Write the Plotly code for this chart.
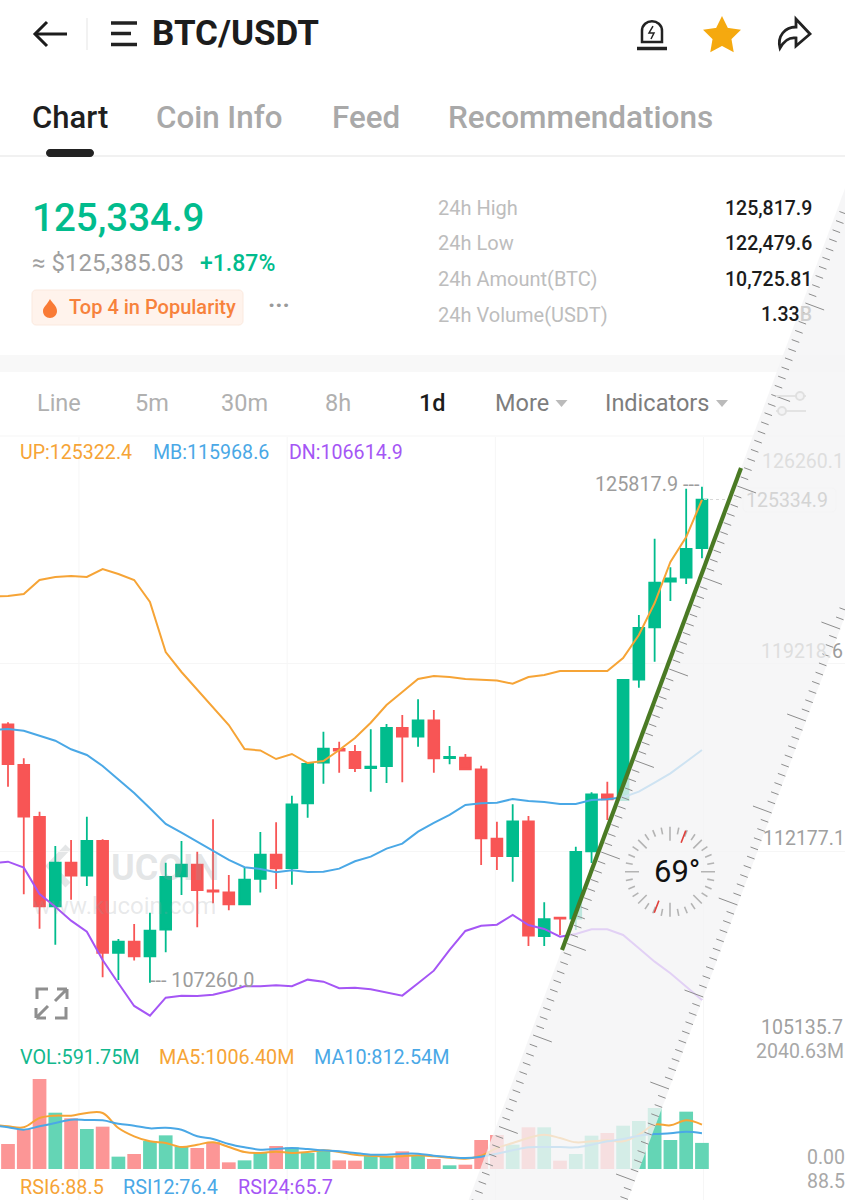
import math
import plotly.graph_objects as go

# ---------- data ----------
candle_open = [116928,115407,113461,110119,111753,111267,112563,108374,108798,108249,
               109246,111242,111678,110718,110643,110194,111142,112052,111553,113973,
               115494,116005,115893,115294,115369,116791,116467,117079,115668,115680,
               115246,112649,112002,113300,109009,109694,109657,112178,114310,114097,
               118597,120558,122264,122413,123524]
candle_close = [115444,113474,110119,111753,111267,112563,108374,108798,108249,109209,
                111217,111678,110730,110668,110194,111117,112052,111541,113935,115444,
                116018,115943,115294,115344,116791,116467,117078,115657,115706,115246,
                112664,112002,113300,109020,109634,109657,112152,114310,114123,118587,
                120532,122227,122391,123487,125334.9]
candle_high = [117003,115656,113661,112376,112601,113474,112626,108897,109458,109882,
               111753,112563,112164,113374,111292,111566,112900,113262,114259,115444,
               116654,116280,116155,116741,116940,117277,117863,117464,116117,115818,
               115380,113285,113936,113498,110270,109694,112350,114385,114782,118624,
               121016,123873,122802,125743,125817.9]
candle_low = [114596,110568,109284,108685,110369,110880,107463,107364,108087,107260,
              108399,110543,109334,110232,109970,110194,110631,110768,110930,113436,
              114708,115120,115145,114409,114733,114758,116092,115118,115433,115219,
              111665,111479,111041,108636,108636,109047,109235,111740,113349,114097,
              118298,119270,121542,122178,123139]
volume = [567,907,2040.63,1277,1149,907,960,280,340,635,763,506,476,612,151,196,363,521,491,363,
          416,196,189,302,287,400,310,227,83,98,657,771,552,945,945,189,340,756,816,982,
          1088,1383,657,1300,591.75]
band_up = [121710,121729,121804,122328,122440,122477,122440,122739,122552,122328,121504,
           119634,118886,118212,117539,116903,116005,115949,115630,115818,115481,115556,
           115968,116416,116989,117651,118138,118624,118736,118699,118624,118587,118568,
           118448,118699,118773,118923,118923,118923,118923,119409,120270,121467,123001,123936,125322.4]
band_mid = [116716,116754,116690,116492,116316,115994,115781,115369,114872,114359,113786,
            113199,112874,112537,112201,111853,111580,111516,111393,111468,111404,111416,
            111528,111805,111977,112276,112463,112912,113237,113537,113911,113974,113997,
            114135,114060,114023,113948,113948,114097,114123,114198,114408,114745,115094,115528,115968.6]
band_dn = [111729,111789,111565,110581,110106,109582,109170,108111,107240,106391,106028,
           106701,106776,106765,106813,106952,107128,107128,107165,107128,107375,107300,
           107053,107075,107015,106888,106776,107240,107711,108486,109196,109394,109432,
           109795,109421,109271,108983,109084,109260,109260,109047,108549,108048,107614,107113,106614.9]
vol_ma5 = [1005,967,945,1156,1209,1209,1270,1270,930,741,627,589,499,552,605,499,385,363,393,363,
           385,423,385,325,302,280,287,310,287,257,234,302,476,589,703,778,703,605,627,650,627,778,
           1006.40,990,1103,1006.40]
vol_ma10 = [990,945,892,967,1043,1118,1111,1103,1028,982,922,937,892,741,680,567,491,438,453,476,
            453,423,401,363,325,325,348,348,302,272,249,280,348,423,491,499,499,491,552,627,680,756,
            793,809,846,812.54]
price_ticks = [126260.1,119218.6,112177.1,105135.7]
grid_x = [4.5,17.7,30.9,44.1]

assert all(len(a)==45 for a in (candle_open,candle_close,candle_high,candle_low,volume))
assert all(len(a)==46 for a in (band_up,band_mid,band_dn,vol_ma5,vol_ma10))

W,H = 845,1200
GREEN,RED = '#01BC8D','#F85555'
ORANGE,BLUE,PURPLE = '#F6A436','#4AA8E6','#A556F5'
candle_idx = list(range(45))
line_idx = list(range(-1,45))

def px(x): return x/W
def py(y): return 1-y/H

fig = go.Figure()
fig.add_trace(go.Bar(x=candle_idx,y=volume,yaxis='y2',hoverinfo='skip',showlegend=False,
    marker=dict(color=['#64D5B5' if c>=o else '#FC9696' for o,c in zip(candle_open,candle_close)],line_width=0)))
fig.add_trace(go.Candlestick(x=candle_idx,open=candle_open,high=candle_high,low=candle_low,close=candle_close,
    increasing=dict(line=dict(color=GREEN,width=1.8),fillcolor=GREEN),
    decreasing=dict(line=dict(color=RED,width=1.8),fillcolor=RED),
    whiskerwidth=0,hoverinfo='skip',showlegend=False))
for vals,col in ((band_up,ORANGE),(band_mid,BLUE),(band_dn,PURPLE)):
    fig.add_trace(go.Scatter(x=line_idx,y=vals,mode='lines',line=dict(color=col,width=2),hoverinfo='skip',showlegend=False))
for vals,col in ((vol_ma5,ORANGE),(vol_ma10,BLUE)):
    fig.add_trace(go.Scatter(x=line_idx,y=vals,yaxis='y2',mode='lines',line=dict(color=col,width=2,shape='spline'),hoverinfo='skip',showlegend=False))

shapes=[]
def path(cmds,fill=None,color=None,width=0,layer='above',opacity=None):
    s=''
    for c in cmds:
        s+=c[0]
        pts=c[1:]
        s+=' '.join(f'{px(pts[i]):.5f},{py(pts[i+1]):.5f}' for i in range(0,len(pts),2))+' '
    d=dict(type='path',path=s.strip(),xref='paper',yref='paper',layer=layer,
           line=dict(color=color or 'rgba(0,0,0,0)',width=width))
    if fill: d['fillcolor']=fill
    if opacity is not None: d['opacity']=opacity
    shapes.append(d)
def seg(x0,y0,x1,y1,color,width=1,layer='above',dash=None):
    shapes.append(dict(type='line',xref='paper',yref='paper',x0=px(x0),y0=py(y0),x1=px(x1),y1=py(y1),
                       layer=layer,line=dict(color=color,width=width,dash=dash or 'solid')))
def rect(x0,y0,x1,y1,fill,layer='below',color=None,width=0):
    shapes.append(dict(type='rect',xref='paper',yref='paper',x0=px(x0),y0=py(y0),x1=px(x1),y1=py(y1),
                       layer=layer,fillcolor=fill,line=dict(color=color or 'rgba(0,0,0,0)',width=width)))
def rrect(x0,y0,x1,y1,r,fill,color=None,width=0,layer='below'):
    k=r*0.45
    path([('M',x0+r,y0),('L',x1-r,y0),('C',x1-k,y0,x1,y0+k,x1,y0+r),('L',x1,y1-r),('C',x1,y1-k,x1-k,y1,x1-r,y1),
          ('L',x0+r,y1),('C',x0+k,y1,x0,y1-k,x0,y1-r),('L',x0,y0+r),('C',x0,y0+k,x0+k,y0,x0+r,y0),('Z',)],
         fill=fill,color=color,width=width,layer=layer)
def circle(cx,cy,r,fill,color=None,width=0,layer='above'):
    shapes.append(dict(type='circle',xref='paper',yref='paper',x0=px(cx-r),x1=px(cx+r),y0=py(cy+r),y1=py(cy-r),
                       layer=layer,fillcolor=fill,line=dict(color=color or 'rgba(0,0,0,0)',width=width)))

# page structure
seg(87,18,87,50,'#eeeeee',1.5,'below')
seg(0,156,845,156,'#ececec',1.5,'below')
rrect(46,149,94,157,4,'#222222',layer='above')
rect(0,355,845,372,'#f8f8f8')
seg(0,436,845,436,'#f5f5f5',1,'below')
for gx in grid_x:
    shapes.append(dict(type='line',xref='x',yref='paper',x0=gx,x1=gx,y0=py(437),y1=py(1200),layer='below',
                       line=dict(color='#f6f6f6',width=1)))
# watermark logo, below the candles
path([('M',68,847),('L',50,866),('L',68,885)],color='#e4e6e7',width=7,fill='rgba(0,0,0,0)',layer='below')
# header icons
seg(35,34,67,34,'#1c1c1c',3)
path([('M',47,22),('L',35,34),('L',47,46)],color='#1c1c1c',width=3,fill='rgba(0,0,0,0)')
seg(111,23,137,23,'#222',3.5); seg(111,33.5,131,33.5,'#222',3.5); seg(111,44.5,137,44.5,'#222',3.5)
path([('M',642,42),('L',642,31),('C',642,18,662,18,662,31),('L',662,42),('Z',)],color='#222',width=2.5,fill='rgba(0,0,0,0)')
seg(637,48.5,667,48.5,'#222',3.5)
path([('M',653,26),('L',649,33),('L',654,33),('L',651,39)],color='#222',width=1.5,fill='rgba(0,0,0,0)')
star=[]
for k in range(10):
    r=16 if k%2==0 else 8
    a=math.radians(-90+36*k)
    star.append(('M' if k==0 else 'L',722+r*math.cos(a),36+r*math.sin(a)))
star.append(('Z',))
path(star,fill='#F5A90F',color='#F5A90F',width=3.5)
path([('M',780,48),('C',777,36,785,27,796,27),('L',796,19),('L',810,34),('L',796,46),('L',796,38),('C',790,37,784,41,780,48),('Z',)],
     color='#222',width=2.8,fill='rgba(0,0,0,0)')
# badge
rrect(32,290,243,325,4,'#FFF3EC',color='#FBE9DE',width=1)
path([('M',50,299),('C',52,303,57,306,57,311),('C',57,315,54,318,50,318),('C',46,318,43,315,43,311),('C',43,307,47,305,50,299),('Z',)],fill='#F97B36')
path([('M',555.5,400),('L',567.5,400),('L',561.5,407),('Z',)],fill='#bbbbbb')
path([('M',716,400),('L',728,400),('L',722,407),('Z',)],fill='#bbbbbb')
# price label box and dotted guide
rrect(743,488,836,512,4,'rgba(255,255,255,0)',color='#f1f1f1',width=1)
seg(704,499.5,738,499.5,'#d8d8d8',1,'above','dot')
# expand icon
for cmds in ([('M',37,999),('L',37,989),('L',48,989)],[('M',55,1018),('L',66,1018),('L',66,1007)],
             [('M',67,989),('L',55,1001),('M',67,989),('L',57,989),('M',67,989),('L',67,999)],
             [('M',36,1018),('L',48,1006),('M',36,1018),('L',46,1018),('M',36,1018),('L',36,1008)]):
    path(cmds,color='#8f8f8f',width=3,fill='rgba(0,0,0,0)')

# ruler
SL=0.372
xl=lambda y:561.7+(950-y)*SL
xr=lambda y:771.7+(813-y)*SL
path([('M',xl(1200),1200),('L',845,950-(845-561.7)/SL),('L',845,813-(845-771.7)/SL),('L',xr(1200),1200),('Z',)],
     fill='rgba(244,244,245,0.78)')
ux,uy=0.937,0.349
tl,tr=[],[]
for k in range(-30,100):
    y=486+9.15*k
    L=20 if k%10==0 else 8
    x0=xl(y)+3
    if -5<y<1205 and x0<845:
        tl+= [('M',x0,y),('L',min(x0+ux*L,845),y+uy*min(L,(845-x0)/ux))]
    y=813+9.2*k-92*3
    L=20 if k%10==0 else 8
    x1=xr(y)
    if 180<y<1205 and x1<=848:
        tr+= [('M',x1,y),('L',x1-ux*L,y-uy*L)]
path(tl,color='#8d8d8d',width=1,fill='rgba(0,0,0,0)')
path(tr,color='#8d8d8d',width=1,fill='rgba(0,0,0,0)')
# protractor dial
cx,cy=670,871.7
ticks=[]; ticks2=[]
for k in range(32):
    a=math.radians(k*11.25)
    major=k%8==0; mid=k%4==0
    r0=31 if major else (33 if mid else 38)
    (ticks2 if mid else ticks).extend([('M',cx+r0*math.sin(a),cy-r0*math.cos(a)),('L',cx+45*math.sin(a),cy-45*math.cos(a))])
path(ticks,color='#b4b4b4',width=1.6,fill='rgba(0,0,0,0)')
path(ticks2,color='#b4b4b4',width=1.6,fill='rgba(0,0,0,0)')
a=math.radians(21)
path([('M',cx+31*math.sin(a),cy-31*math.cos(a)),('L',cx+44*math.sin(a),cy-44*math.cos(a)),
      ('M',cx-31*math.sin(a),cy+31*math.cos(a)),('L',cx-44*math.sin(a),cy+44*math.cos(a))],color='#E0413C',width=1.6,fill='rgba(0,0,0,0)')
# green angle line
seg(562,950,741,468,'#4A7A24',4.2)
# settings icon (pale, under the ruler)
seg(776,396,806,396,'#e3e3e3',2); circle(800,396,4,'#f3f3f4','#e0e0e0',2)
seg(776,411,806,411,'#e3e3e3',2); circle(782,411,4,'#f3f3f4','#e0e0e0',2)

ann=[]
def text(x,y,s,size,color,anchor='left',weight=400):
    dx={'left':-1.5,'right':1,'center':0}[anchor]
    ann.append(dict(xref='paper',yref='paper',x=px(x+dx),y=py(y),text=s,showarrow=False,xanchor=anchor,yanchor='middle',
                    borderpad=0,font=dict(family='Roboto',size=size,color=color,weight=weight)))
text(152,34,'BTC/USDT',35,'#1c1c1c',weight=700)
text(32,117,'Chart',31,'#1f1f1f',weight=500)
text(156,117,'Coin Info',31.3,'#a9a9a9',weight=500)
text(332,117,'Feed',31.3,'#a9a9a9',weight=500)
text(448,117,'Recommendations',31.5,'#a9a9a9',weight=500)
text(32,218,'125,334.9',38.5,GREEN,weight=500)
text(32,263,'≈ $125,385.03',24,'#a0a0a0')
text(200,263,'+1.87%',23,GREEN,weight=500)
text(69,307,'Top 4 in Popularity',20,'#F7823C',weight=500)
text(279,305,'···',24,'#9a9a9a','center',700)
for y,l,v in ((208,'24h High','125,817.9'),(243,'24h Low','122,479.6'),(279,'24h Amount(BTC)','10,725.81'),
              (315,'24h Volume(USDT)','1.33<span style="color:#cfcfcf">B</span>')):
    text(438,y,l,20,'#bdbdbd')
    text(812,y,v,19.5,'#1c1c1c','right',500)
for x,s,c,w in ((37,'Line','#b0b0b0',400),(135,'5m','#b0b0b0',400),(222,'30m','#b0b0b0',400),(325,'8h','#b0b0b0',400),
                (419,'1d','#1c1c1c',500),(495,'More','#7d7d7d',400),(605,'Indicators','#7d7d7d',400)):
    text(x,403,s,23.5,c,weight=w)
text(20,452,'UP:125322.4',19.6,ORANGE)
text(153,452,'MB:115968.6',19.6,BLUE)
text(289,452,'DN:106614.9',19.6,PURPLE)
text(595,484,'125817.9 ---',19.8,'#9c9c9c')
text(150,980,'--- 107260.0',19.8,'#9c9c9c')
text(762,461,'126260.1',19.5,'#dedede')
text(746,500.5,'125334.9',19.5,'#d4d4d4')
text(761,651,'119218.<span style="color:#9c9c9c">6</span>',19.5,'#dedede')
text(763,838,'112177.1',19.5,'#a0a0a0')
text(761,1027,'105135.7',19.5,'#a0a0a0')
text(756,1051,'2040.63M',19.5,'#a8a8a8')
text(807,1157,'0.00',19.5,'#a8a8a8')
text(807,1181,'88.5',19.5,'#a8a8a8')
text(20,1057,'VOL:591.75M',19.8,'#12B88D')
text(159,1057,'MA5:1006.40M',19.8,ORANGE)
text(314,1057,'MA10:812.54M',19.8,BLUE)
text(20,1187,'RSI6:88.5',19.8,ORANGE)
text(123,1187,'RSI12:76.4',19.8,BLUE)
text(238,1187,'RSI24:65.7',19.8,PURPLE)
text(111,868,'UCOIN',36,'rgba(150,155,160,0.26)',weight=700)
text(33,906,'www.kucoin.com',24,'rgba(150,155,160,0.22)')
text(677,871,'69°',31,'#111111','center')

axis_off=dict(showticklabels=False,ticks='',zeroline=False,fixedrange=True,showline=False)
fig.update_layout(width=W,height=H,margin=dict(l=0,r=0,t=0,b=0),paper_bgcolor='white',plot_bgcolor='rgba(0,0,0,0)',
    bargap=0.13,boxgap=0.02,showlegend=False,shapes=shapes,annotations=ann,
    xaxis=dict(range=[-0.507,53.07],domain=[0,1],showgrid=False,rangeslider=dict(visible=False),anchor='y2',**axis_off),
    yaxis=dict(range=[price_ticks[3],price_ticks[0]],domain=[py(1039.5),py(474.9)],tickmode='array',tickvals=price_ticks,
               showgrid=True,gridcolor='#f6f6f6',gridwidth=1,anchor='x',**axis_off),
    yaxis2=dict(range=[0,2040.63],domain=[py(1169),py(1079)],tickmode='array',tickvals=[0],
               showgrid=True,gridcolor='#f3f3f3',gridwidth=1,anchor='x',**axis_off))
fig.write_html('out.html',config=dict(displayModeBar=False),post_script="document.body.style.margin='0';")
